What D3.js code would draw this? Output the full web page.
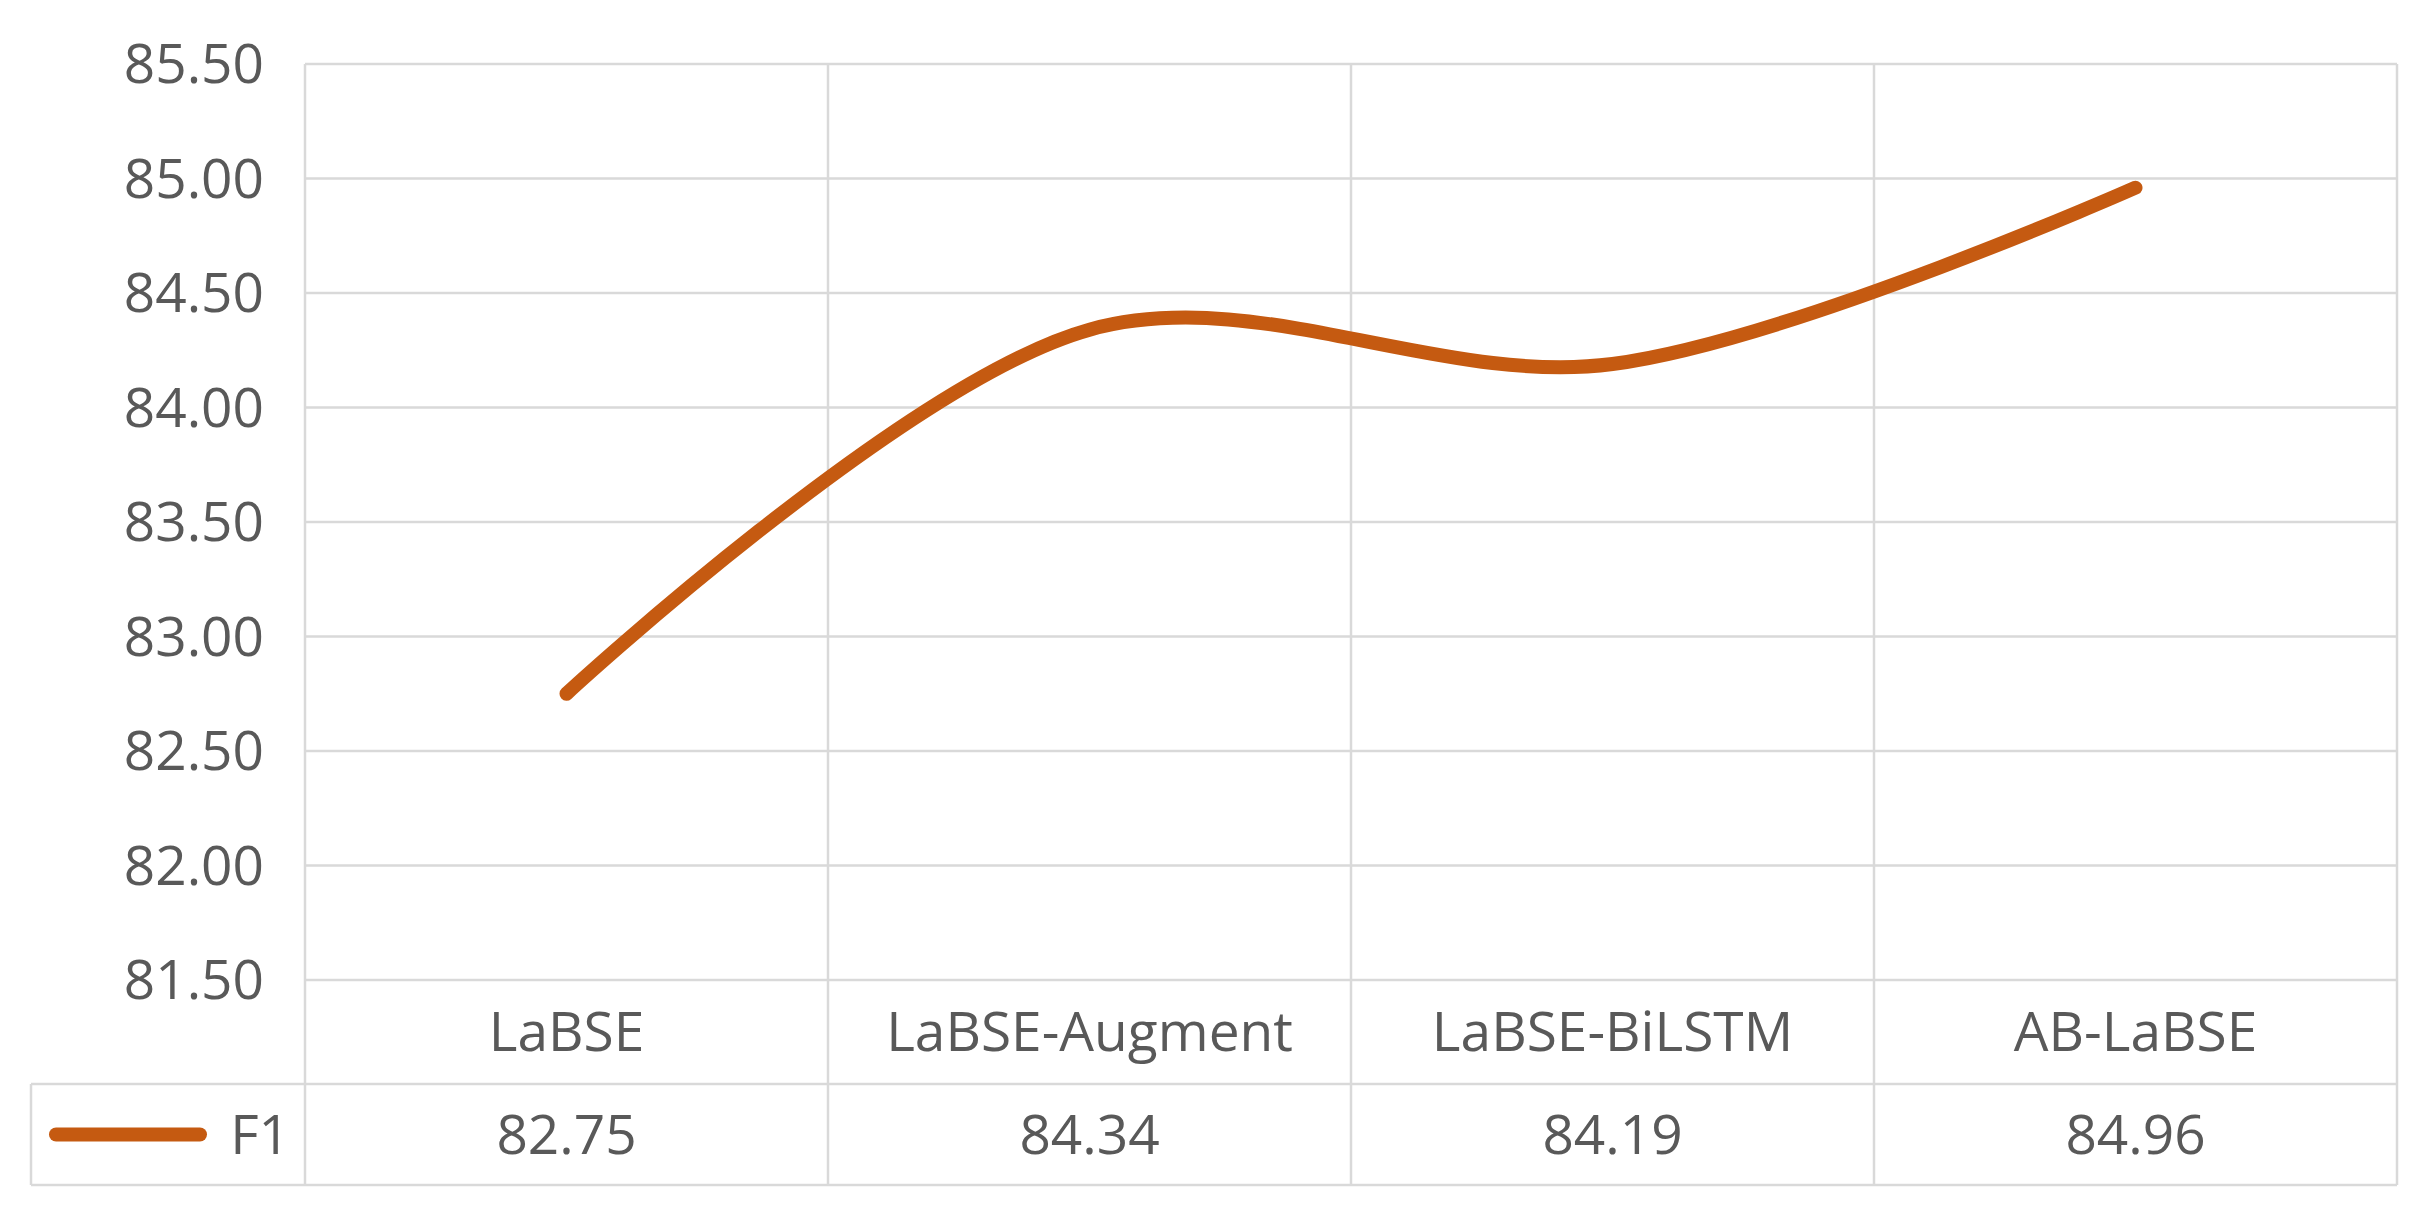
<!DOCTYPE html><html><head><meta charset="utf-8">
<script src="https://cdn.jsdelivr.net/npm/d3@7"></script>
<style>body{margin:0;background:#fff}</style></head><body>
<svg id="c" width="2431" height="1222"></svg>
<script>
const categories=["LaBSE","LaBSE-Augment","LaBSE-BiLSTM","AB-LaBSE"];
const f1=[82.75,84.34,84.19,84.96];
const yTicks=[81.5,82,82.5,83,83.5,84,84.5,85,85.5];
const seriesName="F1";
const svg=d3.select("#c");
const L=305,R=2397,T=64,B=980,RB=1084,TB=1185,TL=31;
const font="'Open Sans','Noto Sans',sans-serif",col="#595959",grid="#d9d9d9",lc="#C55A11",fs=55;
const x=d3.scaleBand().domain(categories).range([L,R]);
const y=d3.scaleLinear().domain([81.5,85.5]).range([B,T]);
const g=svg.append("g");
g.selectAll(".h").data(yTicks).join("line").attr("x1",L).attr("x2",R).attr("y1",d=>y(d)).attr("y2",d=>y(d)).attr("stroke",grid).attr("stroke-width",2.5);
const bounds=categories.map(c=>x(c)).concat([R]);
g.selectAll(".v").data(bounds).join("line").attr("x1",d=>d).attr("x2",d=>d).attr("y1",T).attr("y2",TB).attr("stroke",grid).attr("stroke-width",2.5);
[RB,TB].forEach(v=>g.append("line").attr("x1",TL).attr("x2",R).attr("y1",v).attr("y2",v).attr("stroke",grid).attr("stroke-width",2.5));
g.append("line").attr("x1",TL).attr("x2",TL).attr("y1",RB).attr("y2",TB).attr("stroke",grid).attr("stroke-width",2.5);
g.selectAll(".yt").data(yTicks).join("text").attr("x",264).attr("y",d=>y(d)).attr("dy","0.35em").attr("text-anchor","end").attr("font-family",font).attr("font-size",fs).attr("fill",col).text(d=>d.toFixed(2));
g.selectAll(".ct").data(categories).join("text").attr("x",d=>x(d)+x.bandwidth()/2).attr("y",(B+RB)/2).attr("dy","0.35em").attr("text-anchor","middle").attr("font-family",font).attr("font-size",fs).attr("fill",col).text(d=>d);
g.selectAll(".vt").data(f1).join("text").attr("x",(d,i)=>x(categories[i])+x.bandwidth()/2).attr("y",(RB+TB)/2).attr("dy","0.35em").attr("text-anchor","middle").attr("font-family",font).attr("font-size",fs).attr("fill",col).text(d=>d.toFixed(2));
const ym=(RB+TB)/2;
g.append("line").attr("x1",56).attr("x2",200).attr("y1",ym).attr("y2",ym).attr("stroke",lc).attr("stroke-width",14).attr("stroke-linecap","round");
g.append("text").attr("x",290).attr("y",ym).attr("dy","0.35em").attr("text-anchor","end").attr("font-family",font).attr("font-size",fs).attr("fill",col).text(seriesName);
const line=d3.line().x((d,i)=>x(categories[i])+x.bandwidth()/2).y(d=>y(d)).curve(d3.curveCatmullRom.alpha(0.5));
g.append("path").attr("d",line(f1)).attr("fill","none").attr("stroke",lc).attr("stroke-width",14).attr("stroke-linecap","round");
</script></body></html>
